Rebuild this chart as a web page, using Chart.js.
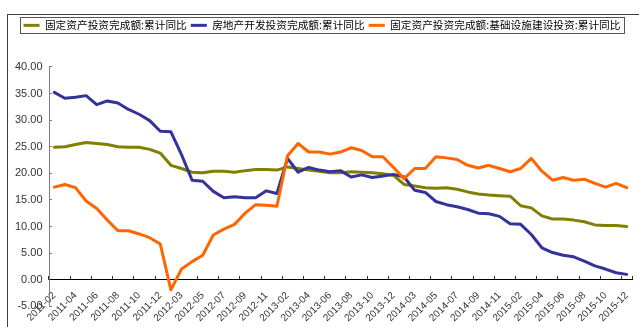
<!DOCTYPE html>
<html>
<head>
<meta charset="utf-8">
<script src="https://cdn.jsdelivr.net/npm/chart.js@4/dist/chart.umd.min.js"></script>
<style>
  html, body { margin: 0; padding: 0; background: #fff; }
</style>
</head>
<body>
<canvas id="grafico" width="639" height="327"></canvas>
<script>
// Categorias (jan/fev acumulados -> sem janeiro)
const categorias = [
  '2011-02','2011-03','2011-04','2011-05','2011-06','2011-07','2011-08','2011-09','2011-10','2011-11','2011-12',
  '2012-02','2012-03','2012-04','2012-05','2012-06','2012-07','2012-08','2012-09','2012-10','2012-11','2012-12',
  '2013-02','2013-03','2013-04','2013-05','2013-06','2013-07','2013-08','2013-09','2013-10','2013-11','2013-12',
  '2014-02','2014-03','2014-04','2014-05','2014-06','2014-07','2014-08','2014-09','2014-10','2014-11','2014-12',
  '2015-02','2015-03','2015-04','2015-05','2015-06','2015-07','2015-08','2015-09','2015-10','2015-11','2015-12'
];

// Series
const nomeFAI = '固定资产投资完成额:累计同比';
const nomeImob = '房地产开发投资完成额:累计同比';
const nomeInfra = '固定资产投资完成额:基础设施建设投资:累计同比';

const serieFAI = [
  24.9, 25.0, 25.4, 25.8, 25.6, 25.4, 25.0, 24.9, 24.9, 24.5, 23.8,
  21.5, 20.9, 20.2, 20.1, 20.4, 20.4, 20.2, 20.5, 20.7, 20.7, 20.6,
  21.2, 20.9, 20.6, 20.4, 20.1, 20.1, 20.3, 20.2, 20.1, 19.9, 19.6,
  17.9, 17.6, 17.3, 17.2, 17.3, 17.0, 16.5, 16.1, 15.9, 15.8, 15.7,
  13.9, 13.5, 12.0, 11.4, 11.4, 11.2, 10.9, 10.3, 10.2, 10.2, 10.0
];
const serieImob = [
  35.2, 34.1, 34.3, 34.6, 32.9, 33.6, 33.2, 32.0, 31.1, 29.9, 27.9,
  27.8, 23.5, 18.7, 18.5, 16.6, 15.4, 15.6, 15.4, 15.4, 16.7, 16.2,
  22.8, 20.2, 21.1, 20.6, 20.3, 20.5, 19.3, 19.7, 19.2, 19.5, 19.8,
  19.3, 16.8, 16.4, 14.7, 14.1, 13.7, 13.2, 12.5, 12.4, 11.9, 10.5,
  10.4, 8.5, 6.0, 5.1, 4.6, 4.3, 3.5, 2.6, 2.0, 1.3, 1.0
];
const serieInfra = [
  17.4, 17.9, 17.3, 14.8, 13.4, 11.2, 9.2, 9.2, 8.6, 7.9, 6.7,
  -1.9, 2.0, 3.4, 4.6, 8.4, 9.5, 10.4, 12.5, 14.1, 14.0, 13.8,
  23.3, 25.6, 24.0, 24.0, 23.6, 24.0, 24.8, 24.3, 23.1, 23.1, 21.1,
  19.0, 20.9, 20.9, 23.1, 22.9, 22.6, 21.5, 21.0, 21.5, 20.9, 20.3,
  20.9, 22.8, 20.4, 18.7, 19.2, 18.7, 18.9, 18.1, 17.4, 18.1, 17.3
];

const eixoY = { min: -5, max: 40, passo: 5 };

// Margem extra abaixo da legenda
const legendaMargem = {
  id: 'legendaMargem',
  beforeInit(chart) {
    const fitOriginal = chart.legend.fit;
    chart.legend.fit = function() {
      fitOriginal.bind(chart.legend)();
      this.height += 26.2;
    };
  }
};

// Bordas: moldura externa e caixa da legenda
const molduras = {
  id: 'molduras',
  afterDraw(chart) {
    const ctx = chart.ctx;
    const lg = chart.legend;
    ctx.save();
    ctx.lineWidth = 1;
    ctx.strokeStyle = '#404040';
    ctx.strokeRect(7.5, 14.5, 700, 400);
    if (lg && lg.legendHitBoxes && lg.legendHitBoxes.length) {
      const hb = lg.legendHitBoxes;
      const esq = Math.min(...hb.map(h => h.left));
      const dir = Math.max(...hb.map(h => h.left + h.width));
      const topo = Math.min(...hb.map(h => h.top));
      const base = Math.max(...hb.map(h => h.top + h.height));
      ctx.strokeStyle = '#555';
      ctx.strokeRect(Math.round(esq - 4) + 0.5, Math.round(topo - 3) + 0.5,
                     Math.round(dir - esq + 7), Math.round(base - topo + 5));
    }
    ctx.restore();
  }
};

const linha = (label, data, cor, ordem) => ({
  label: label,
  data: data,
  borderColor: cor,
  backgroundColor: cor,
  borderWidth: 3,
  pointRadius: 0,
  pointHoverRadius: 0,
  fill: false,
  tension: 0,
  borderJoinStyle: 'round',
  borderCapStyle: 'round',
  order: ordem
});

new Chart(document.getElementById('grafico'), {
  type: 'line',
  data: {
    labels: categorias,
    datasets: [
      linha(nomeFAI, serieFAI, '#808000', 2),
      linha(nomeImob, serieImob, '#333399', 1),
      linha(nomeInfra, serieInfra, '#FF6600', 0)
    ]
  },
  options: {
    responsive: false,
    animation: false,
    layout: { padding: { left: 12, right: 7, top: 16, bottom: 20.7 } },
    plugins: {
      legend: {
        position: 'top',
        labels: {
          usePointStyle: true,
          pointStyle: 'line',
          pointStyleWidth: 16,
          padding: 4,
          color: '#000',
          font: { family: '"Noto Sans CJK SC", sans-serif', size: 10.7 },
          sort: (a, b) => a.datasetIndex - b.datasetIndex
        }
      },
      tooltip: { enabled: false }
    },
    scales: {
      x: {
        type: 'category',
        position: { y: 0 },
        offset: true,
        grid: {
          offset: true,
          drawOnChartArea: false,
          tickLength: -4,
          color: '#333',
          tickColor: c => (c.index % 2 ? 'rgba(0,0,0,0)' : '#333')
        },
        border: { color: '#000', width: 1 },
        ticks: {
          autoSkip: false,
          maxRotation: 45,
          minRotation: 45,
          padding: 14,
          color: '#333',
          font: { family: '"Liberation Sans", Arial, sans-serif', size: 10 },
          callback: (v, i) => (i % 2 ? '' : categorias[i])
        },
        // nao deixar os rotulos girados empurrarem a area do grafico
        afterFit: s => { s.paddingLeft = 0; s.paddingRight = 0; }
      },
      y: {
        min: eixoY.min,
        max: eixoY.max,
        grid: { drawOnChartArea: false, tickLength: -3, color: '#808080' },
        border: { color: '#808080', width: 1 },
        ticks: {
          stepSize: eixoY.passo,
          padding: 9.5,
          color: '#333',
          font: { family: '"Liberation Sans", Arial, sans-serif', size: 11 },
          callback: v => v.toFixed(2)
        },
        afterFit: s => { s.width = 37; }
      }
    }
  },
  plugins: [legendaMargem, molduras]
});
</script>
</body>
</html>
